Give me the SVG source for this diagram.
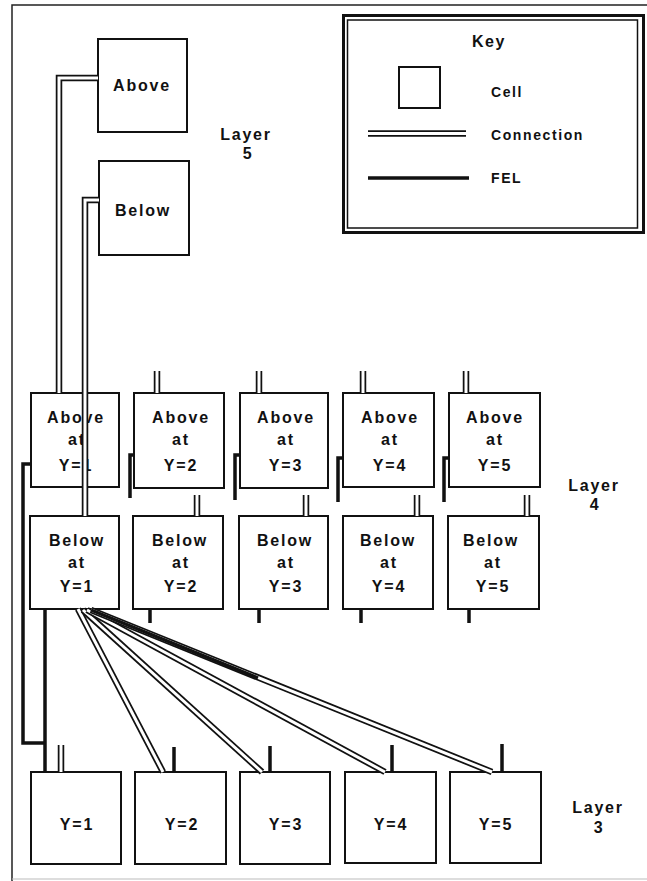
<svg xmlns="http://www.w3.org/2000/svg" xmlns:xlink="http://www.w3.org/1999/xlink" width="647" height="881" viewBox="0 0 647 881">
<style>
.box{fill:#fff;stroke:#111;stroke-width:2}
.t{font-family:"Liberation Sans",Arial,sans-serif;font-weight:bold;font-size:16px;letter-spacing:1.8px;text-anchor:middle;fill:#111}
.k{font-family:"Liberation Sans",Arial,sans-serif;font-weight:bold;font-size:14px;letter-spacing:1.6px;fill:#111}
.co{fill:none;stroke:#111;stroke-width:6.5;stroke-linejoin:miter}
.ci{fill:none;stroke:#fff;stroke-width:3;stroke-linejoin:miter}
.fel{fill:none;stroke:#111;stroke-width:3.5;stroke-linejoin:miter}
.frame{fill:none;stroke:#222;stroke-width:1.5}
</style>
<defs>
<path id="ca5" d="M98,78 H59 V393"/>
<path id="cb5" d="M99,200 H85 V516"/>
<path id="sa2" d="M157,371 V393"/>
<path id="sa3" d="M259,371 V393"/>
<path id="sa4" d="M363,371 V393"/>
<path id="sa5" d="M466,371 V393"/>
<path id="sb2" d="M197,495 V516"/>
<path id="sb3" d="M306,495 V516"/>
<path id="sb4" d="M417,495 V516"/>
<path id="sb5" d="M527,495 V516"/>
<path id="s31" d="M61,745 V772"/>
<path id="f2" d="M78,609 L163,772"/>
<path id="f3" d="M83,610 L262,772"/>
<path id="f4" d="M87,610 L385,772"/>
<path id="f5" d="M91,610 L492,772"/>
<path id="kc" d="M368,133.5 H466"/>
</defs>

<g id="frame">
<path class="frame" d="M12,881 V5 H647"/>
<path d="M12,879 H647" fill="none" stroke="#bbb" stroke-width="1"/>
</g>

<g id="key">
<rect x="343.5" y="15.5" width="300" height="217" fill="#fff" stroke="#111" stroke-width="3"/>
<rect x="347.5" y="20" width="290" height="208" fill="none" stroke="#111" stroke-width="1.5"/>
<text class="k" x="489" y="47" text-anchor="middle" style="font-size:16px">Key</text>
<rect x="399" y="67" width="41" height="41" fill="#fff" stroke="#111" stroke-width="2"/>
<text class="k" x="491" y="97">Cell</text>
<use xlink:href="#kc" class="co"/><use xlink:href="#kc" class="ci"/>
<text class="k" x="491" y="140">Connection</text>
<path class="fel" d="M368,178 H469"/>
<text class="k" x="491" y="183">FEL</text>
</g>

<g id="layer5-above"><rect class="box" x="98" y="39" width="89" height="93"/><text class="t" x="142" y="91">Above</text></g>
<g id="layer5-below"><rect class="box" x="99" y="161" width="90" height="94"/><text class="t" x="143" y="216">Below</text></g>
<g id="layer5-label"><text class="t" x="246" y="140">Layer</text><text class="t" x="248" y="159">5</text></g>

<g id="above-y1"><rect class="box" x="31" y="393" width="88" height="94"/><text class="t" x="76" y="423">Above</text><text class="t" x="77" y="445">at</text><text class="t" x="76" y="471">Y=1</text></g>
<g id="above-y2"><rect class="box" x="134" y="393" width="90" height="95"/><text class="t" x="181" y="423">Above</text><text class="t" x="181" y="445">at</text><text class="t" x="181" y="471">Y=2</text></g>
<g id="above-y3"><rect class="box" x="240" y="393" width="88" height="95"/><text class="t" x="286" y="423">Above</text><text class="t" x="286" y="445">at</text><text class="t" x="286" y="471">Y=3</text></g>
<g id="above-y4"><rect class="box" x="343" y="393" width="91" height="94"/><text class="t" x="390" y="423">Above</text><text class="t" x="390" y="445">at</text><text class="t" x="390" y="471">Y=4</text></g>
<g id="above-y5"><rect class="box" x="449" y="393" width="91" height="94"/><text class="t" x="495" y="423">Above</text><text class="t" x="495" y="445">at</text><text class="t" x="495" y="471">Y=5</text></g>

<g id="below-y1"><rect class="box" x="30" y="516" width="89" height="93"/><text class="t" x="77" y="546">Below</text><text class="t" x="77" y="568">at</text><text class="t" x="77" y="592">Y=1</text></g>
<g id="below-y2"><rect class="box" x="133" y="516" width="90" height="93"/><text class="t" x="180" y="546">Below</text><text class="t" x="181" y="568">at</text><text class="t" x="181" y="592">Y=2</text></g>
<g id="below-y3"><rect class="box" x="239" y="516" width="89" height="93"/><text class="t" x="285" y="546">Below</text><text class="t" x="286" y="568">at</text><text class="t" x="286" y="592">Y=3</text></g>
<g id="below-y4"><rect class="box" x="343" y="516" width="90" height="93"/><text class="t" x="388" y="546">Below</text><text class="t" x="389" y="568">at</text><text class="t" x="389" y="592">Y=4</text></g>
<g id="below-y5"><rect class="box" x="448" y="516" width="91" height="93"/><text class="t" x="491" y="546">Below</text><text class="t" x="493" y="568">at</text><text class="t" x="493" y="592">Y=5</text></g>
<g id="layer4-label"><text class="t" x="594" y="491">Layer</text><text class="t" x="595" y="510">4</text></g>

<g id="l3-y1"><rect class="box" x="31" y="772" width="90" height="92"/><text class="t" x="77" y="830">Y=1</text></g>
<g id="l3-y2"><rect class="box" x="135" y="772" width="91" height="92"/><text class="t" x="182" y="830">Y=2</text></g>
<g id="l3-y3"><rect class="box" x="240" y="772" width="90" height="92"/><text class="t" x="286" y="830">Y=3</text></g>
<g id="l3-y4"><rect class="box" x="345" y="772" width="91" height="91"/><text class="t" x="391" y="830">Y=4</text></g>
<g id="l3-y5"><rect class="box" x="450" y="772" width="91" height="91"/><text class="t" x="496" y="830">Y=5</text></g>
<g id="layer3-label"><text class="t" x="598" y="813">Layer</text><text class="t" x="599" y="833">3</text></g>

<g id="connectors">
<use xlink:href="#ca5" class="co"/><use xlink:href="#ca5" class="ci"/>
<use xlink:href="#cb5" class="co"/><use xlink:href="#cb5" class="ci"/>
<use xlink:href="#sa2" class="co"/><use xlink:href="#sa2" class="ci"/>
<use xlink:href="#sa3" class="co"/><use xlink:href="#sa3" class="ci"/>
<use xlink:href="#sa4" class="co"/><use xlink:href="#sa4" class="ci"/>
<use xlink:href="#sa5" class="co"/><use xlink:href="#sa5" class="ci"/>
<use xlink:href="#sb2" class="co"/><use xlink:href="#sb2" class="ci"/>
<use xlink:href="#sb3" class="co"/><use xlink:href="#sb3" class="ci"/>
<use xlink:href="#sb4" class="co"/><use xlink:href="#sb4" class="ci"/>
<use xlink:href="#sb5" class="co"/><use xlink:href="#sb5" class="ci"/>
<use xlink:href="#s31" class="co"/><use xlink:href="#s31" class="ci"/>
<use xlink:href="#f2" class="co"/><use xlink:href="#f2" class="ci"/>
<use xlink:href="#f3" class="co"/><use xlink:href="#f3" class="ci"/>
<use xlink:href="#f4" class="co"/><use xlink:href="#f4" class="ci"/>
<use xlink:href="#f5" class="co"/><use xlink:href="#f5" class="ci"/>
<path class="fel" d="M91,610 L258,678" stroke-width="5"/>
<path class="fel" d="M31,464 H23 V743 H45"/>
<path class="fel" d="M45,609 V772" stroke-width="3"/>
<path class="fel" d="M134,455 H130 V498"/>
<path class="fel" d="M240,455 H235 V500"/>
<path class="fel" d="M343,458 H338 V502"/>
<path class="fel" d="M449,458 H444 V502"/>
<path class="fel" d="M150,609 V623"/>
<path class="fel" d="M259,609 V623"/>
<path class="fel" d="M361,609 V623"/>
<path class="fel" d="M469,609 V623"/>
<path class="fel" d="M174,747 V772" stroke-width="2.5"/>
<path class="fel" d="M270,746 V772"/>
<path class="fel" d="M392,745 V772"/>
<path class="fel" d="M502,744 V772"/>
</g>
</svg>
